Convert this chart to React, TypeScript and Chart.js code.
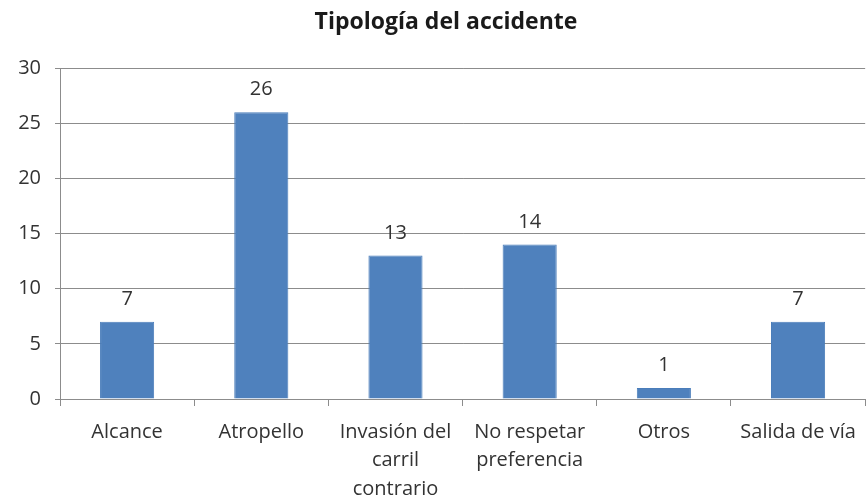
import React, { useEffect, useRef } from "react";
import { Chart, registerables } from "chart.js";

Chart.register(...registerables);

const categories: (string | string[])[] = [
  "Alcance",
  "Atropello",
  ["Invasión del", "carril", "contrario"],
  ["No respetar", "preferencia"],
  "Otros",
  "Salida de vía",
];
const values: number[] = [7, 26, 13, 14, 1, 7];
const chartTitle = "Tipología del accidente";
const yMin = 0;
const yMax = 30;
const yStep = 5;

const FONT = "'Open Sans', Lato, sans-serif";

const valueLabels = {
  id: "valueLabels",
  afterDatasetsDraw(chart: any) {
    const ctx = chart.ctx;
    const meta = chart.getDatasetMeta(0);
    ctx.save();
    ctx.font = `20px ${FONT}`;
    ctx.fillStyle = "#333333";
    ctx.textAlign = "center";
    ctx.textBaseline = "alphabetic";
    meta.data.forEach((bar: any, i: number) => {
      ctx.fillText(String(values[i]), bar.x, bar.y - 17);
    });
    ctx.restore();
  },
};

const titlePlugin = {
  id: "customTitle",
  afterDraw(chart: any) {
    const ctx = chart.ctx;
    ctx.save();
    ctx.font = `bold 23px ${FONT}`;
    ctx.fillStyle = "#1a1a1a";
    ctx.textAlign = "center";
    ctx.textBaseline = "middle";
    ctx.fillText(chartTitle, 446, 22);
    ctx.restore();
  },
};

export default function App() {
  const ref = useRef<HTMLCanvasElement | null>(null);
  useEffect(() => {
    if (!ref.current) return;
    const chart = new Chart(ref.current, {
      type: "bar",
      data: {
        labels: categories,
        datasets: [
          {
            data: values,
            backgroundColor: "#4F81BD",
            borderColor: "#4A7DBA",
            borderWidth: 1,
            barPercentage: 0.72,
            categoryPercentage: 0.56,
          },
        ],
      },
      options: {
        animation: false,
        responsive: false,
        layout: { padding: { left: 0, right: 2, top: 68, bottom: 0 } },
        plugins: {
          legend: { display: false },
          tooltip: { enabled: false },
          title: { display: false },
        },
        scales: {
          x: {
            offset: true,
            grid: {
              offset: true,
              drawOnChartArea: false,
              drawTicks: true,
              tickLength: 7,
              color: "#8c8c8c",
            },
            border: { color: "#8c8c8c", width: 1 },
            ticks: {
              color: "#333333",
              font: { family: FONT, size: 20, lineHeight: 1.42 },
              padding: 12,
              maxRotation: 0,
              autoSkip: false,
            },
            afterFit(scale: any) {
              scale.height = 104;
            },
          },
          y: {
            min: yMin,
            max: yMax,
            ticks: {
              stepSize: yStep,
              color: "#333333",
              font: { family: FONT, size: 20 },
              padding: 14,
            },
            grid: {
              color: "#8c8c8c",
              tickLength: 5,
            },
            border: { color: "#8c8c8c", width: 1 },
            afterFit(scale: any) {
              scale.width = 60;
            },
          },
        },
      },
      plugins: [valueLabels, titlePlugin],
    });
    return () => chart.destroy();
  }, []);
  return (
    <div style={{ position: "fixed", left: 0, top: 0, width: 868, height: 503, background: "#fff" }}>
      <canvas ref={ref} width={868} height={503} style={{ display: "block" }} />
    </div>
  );
}
